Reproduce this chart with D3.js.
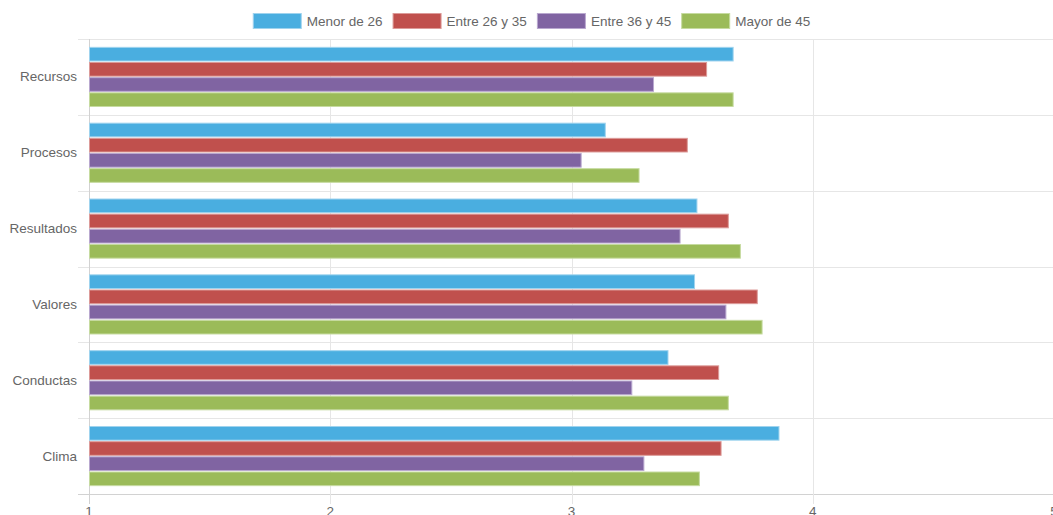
<!DOCTYPE html>
<html>
<head>
<meta charset="utf-8">
<script src="https://cdn.jsdelivr.net/npm/d3@7"></script>
<style>
  html, body { margin: 0; padding: 0; background: #fff; overflow: hidden; }
  svg { display: block; font-family: "Liberation Sans", Arial, Helvetica, sans-serif; }
</style>
</head>
<body>
<svg id="chart" width="1053" height="515"></svg>
<script>
// Survey dimensions and mean scores per age group
const categories = ["Recursos", "Procesos", "Resultados", "Valores", "Conductas", "Clima"];
const seriesNames = ["Menor de 26", "Entre 26 y 35", "Entre 36 y 45", "Mayor de 45"];
const menor26   = [3.67, 3.14, 3.52, 3.51, 3.40, 3.86];
const entre2635 = [3.56, 3.48, 3.65, 3.77, 3.61, 3.62];
const entre3645 = [3.34, 3.04, 3.45, 3.64, 3.25, 3.30];
const mayor45   = [3.67, 3.28, 3.70, 3.79, 3.65, 3.53];
const xTicks = [1, 2, 3, 4, 5];
const colors = ["#4aaee0", "#c0504d", "#8064a2", "#9bbb59"];
const strokes = ["#9fd3ee", "#dc9b99", "#b9a8cf", "#c6dba0"];

const seriesValues = [menor26, entre2635, entre3645, mayor45];

const svg = d3.select("#chart");
const W = 1053;
const plotLeft = 89, plotRight = 1054, plotTop = 39, plotBottom = 494;
const fontSize = 13.5;

const x = d3.scaleLinear().domain([1, 5]).range([plotLeft, plotRight]);
const y = d3.scaleBand().domain(categories).range([plotTop, plotBottom]).paddingInner(0).paddingOuter(0);
const groupH = y.bandwidth() * 0.8;
const inner = d3.scaleBand().domain(seriesNames).range([0, groupH]).paddingInner(0);
const barH = inner.bandwidth() * 0.9;

// Horizontal grid lines at category boundaries
const bounds = categories.map(c => y(c)).concat([plotBottom]);
svg.append("g").selectAll("line").data(bounds).join("line")
  .attr("x1", plotLeft - 11).attr("x2", W)
  .attr("y1", d => Math.round(d) + 0.5).attr("y2", d => Math.round(d) + 0.5)
  .attr("stroke", (d, i) => i === bounds.length - 1 ? "#d2d2d2" : "#e6e6e6")
  .attr("stroke-width", 1);

// Vertical grid lines at value ticks
svg.append("g").selectAll("line").data(xTicks).join("line")
  .attr("x1", d => Math.round(x(d)) + 0.5).attr("x2", d => Math.round(x(d)) + 0.5)
  .attr("y1", plotTop).attr("y2", plotBottom + 10)
  .attr("stroke", (d, i) => i === 0 ? "#d2d2d2" : "#e6e6e6")
  .attr("stroke-width", 1);

// Bars
const groups = svg.append("g").selectAll("g").data(categories).join("g")
  .attr("transform", c => `translate(0,${y(c) + (y.bandwidth() - groupH) / 2})`);

groups.selectAll("rect").data((c, ci) => seriesNames.map((s, si) => ({ s, si, v: seriesValues[si][ci] })))
  .join("rect")
  .attr("x", plotLeft + 0.5)
  .attr("y", d => inner(d.s) + (inner.bandwidth() - barH) / 2)
  .attr("width", d => x(d.v) - plotLeft - 0.5)
  .attr("height", barH)
  .attr("fill", d => colors[d.si])
  .attr("stroke", d => strokes[d.si])
  .attr("stroke-width", 1);

// Category labels
svg.append("g").selectAll("text").data(categories).join("text")
  .attr("x", plotLeft - 12)
  .attr("y", c => y(c) + y.bandwidth() / 2)
  .attr("text-anchor", "end")
  .attr("dominant-baseline", "central")
  .attr("font-size", fontSize)
  .attr("fill", "#666")
  .text(c => c);

// Value tick labels
svg.append("g").selectAll("text").data(xTicks).join("text")
  .attr("x", d => x(d))
  .attr("y", plotBottom + 22)
  .attr("text-anchor", "middle")
  .attr("font-size", fontSize)
  .attr("fill", "#666")
  .text(d => d);

// Legend
const boxW = 49, boxH = 16, gapText = 5, gapItem = 10;
const legend = svg.append("g");
let cx = 0;
const items = seriesNames.map((s, i) => {
  const t = legend.append("text").attr("font-size", fontSize).attr("fill", "#666").text(s);
  const tw = t.node().getComputedTextLength();
  const item = { s, i, t, tw, x: cx };
  cx += boxW + gapText + tw + gapItem;
  return item;
});
const totalW = cx - gapItem;
const startX = (W - totalW) / 2 + 5;
items.forEach(it => {
  legend.append("rect")
    .attr("x", startX + it.x + 0.5).attr("y", 13.5)
    .attr("width", boxW - 1).attr("height", boxH - 1)
    .attr("fill", colors[it.i]).attr("stroke", strokes[it.i]).attr("stroke-width", 1);
  it.t.attr("x", startX + it.x + boxW + gapText).attr("y", 21).attr("dominant-baseline", "central");
});
</script>
</body>
</html>
